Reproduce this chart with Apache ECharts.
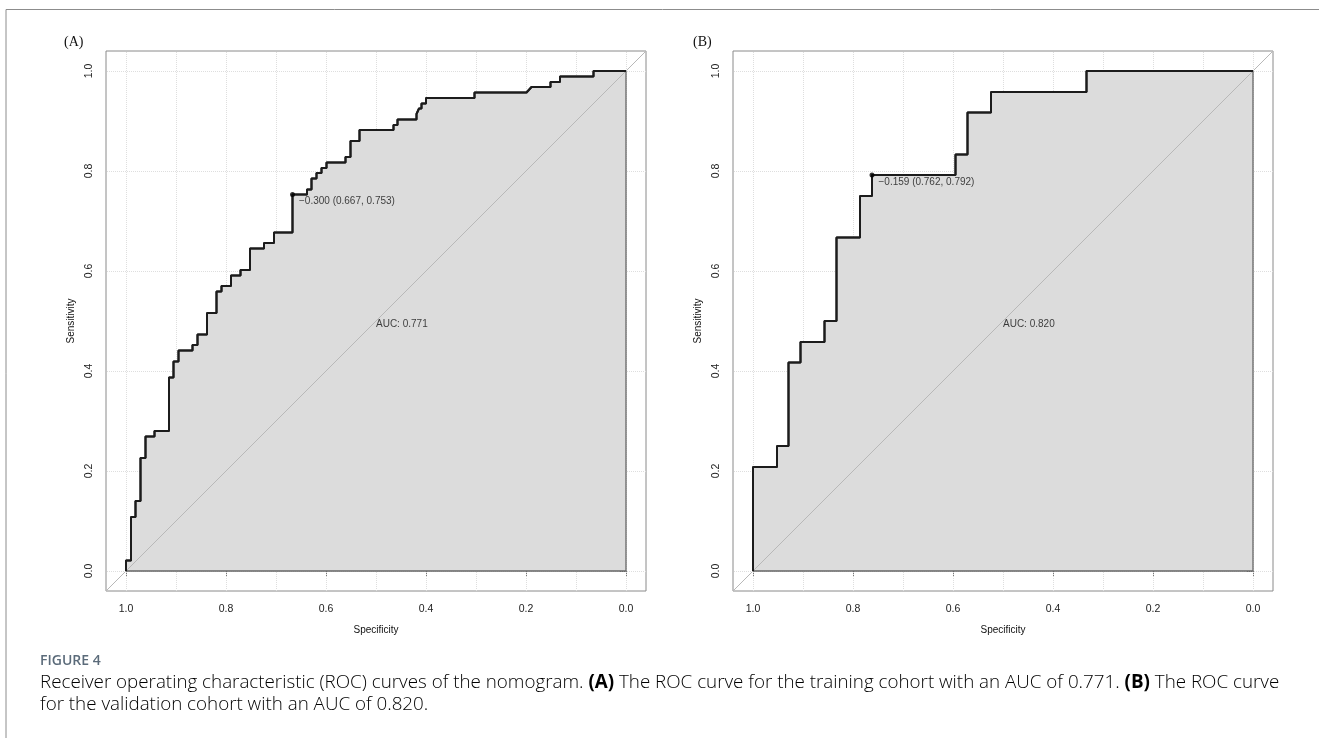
<!DOCTYPE html>
<html>
<head>
<meta charset="utf-8">
<style>
html,body{margin:0;padding:0;background:#fff;}
#chart{width:1319px;height:738px;}
</style>
<script src="https://cdn.jsdelivr.net/npm/echarts/dist/echarts.min.js"></script>
</head>
<body>
<div id="chart"></div>
<script>
// ---- data ----
var specA = [1,1,0.99,0.99,0.981,0.981,0.971,0.971,0.961,0.961,0.943,0.943,0.914,0.914,0.905,0.905,0.895,0.895,0.867,0.867,0.857,0.857,0.838,0.838,0.819,0.819,0.809,0.809,0.79,0.79,0.771,0.771,0.752,0.752,0.724,0.724,0.704,0.704,0.667,0.667,0.638,0.638,0.629,0.629,0.619,0.619,0.609,0.609,0.599,0.599,0.561,0.561,0.551,0.551,0.533,0.533,0.465,0.465,0.457,0.457,0.419,0.419,0.414,0.409,0.409,0.400,0.400,0.303,0.303,0.199,0.189,0.151,0.151,0.132,0.132,0.065,0.065,0];
var sensA = [0,0.021,0.021,0.108,0.108,0.140,0.140,0.226,0.226,0.269,0.269,0.280,0.280,0.387,0.387,0.419,0.419,0.441,0.441,0.452,0.452,0.473,0.473,0.516,0.516,0.559,0.559,0.570,0.570,0.591,0.591,0.602,0.602,0.645,0.645,0.656,0.656,0.677,0.677,0.753,0.753,0.763,0.763,0.785,0.785,0.796,0.796,0.806,0.806,0.817,0.817,0.828,0.828,0.860,0.860,0.882,0.882,0.892,0.892,0.903,0.903,0.914,0.925,0.925,0.935,0.935,0.946,0.946,0.957,0.957,0.968,0.968,0.978,0.978,0.989,0.989,1,1];
var specB = [1,1,0.952,0.952,0.929,0.929,0.905,0.905,0.857,0.857,0.833,0.833,0.786,0.786,0.762,0.762,0.595,0.595,0.571,0.571,0.524,0.524,0.333,0.333,0];
var sensB = [0,0.208,0.208,0.250,0.250,0.417,0.417,0.458,0.458,0.500,0.500,0.667,0.667,0.750,0.750,0.792,0.792,0.833,0.833,0.917,0.917,0.958,0.958,1,1];
var cutA = {spec:0.667, sens:0.753, label:'\u22120.300 (0.667, 0.753)'};
var cutB = {spec:0.762, sens:0.792, label:'\u22120.159 (0.762, 0.792)'};
var aucA = 'AUC: 0.771';
var aucB = 'AUC: 0.820';
var tickValues = [0, 0.2, 0.4, 0.6, 0.8, 1.0];
var tickLabels = ['0.0', '0.2', '0.4', '0.6', '0.8', '1.0'];
var vGrid = [0,0.1,0.2,0.3,0.4,0.5,0.6,0.7,0.8,0.9,1.0];
var hGrid = [0,0.2,0.4,0.6,0.8,1.0];
var panelTags = ['(A)', '(B)'];
var axisNames = {x:'Specificity', y:'Sensitivity'};

// ---- chart ----
var LO = -0.04, HI = 1.04;
function zip(a,b){ return a.map(function(v,i){return [v,b[i]];}); }
function fmt(v){ var i = tickValues.indexOf(Math.round(v*10)/10); return i>=0 ? tickLabels[i] : ''; }

var grids = [
  {left:106, top:51, width:540, height:540},
  {left:733, top:51, width:540, height:540}
];
var xAxes = [], yAxes = [], series = [];
[[specA,sensA,cutA,aucA],[specB,sensB,cutB,aucB]].forEach(function(p, k){
  grids[k].show = true; grids[k].borderColor = '#8a8a8a'; grids[k].borderWidth = 1; grids[k].backgroundColor = '#fff';
  xAxes.push({type:'value', gridIndex:k, min:LO, max:HI, inverse:true,
    name:axisNames.x, nameLocation:'middle', nameGap:34,
    nameTextStyle:{fontFamily:'Liberation Sans', fontSize:10, color:'#111'},
    axisLine:{show:false},
    axisTick:{show:true, customValues:tickValues, length:6, lineStyle:{color:'#777'}},
    axisLabel:{customValues:tickValues, formatter:fmt, margin:13, fontFamily:'Liberation Sans', fontSize:10.5, color:'#222'},
    splitLine:{show:false}});
  yAxes.push({type:'value', gridIndex:k, min:LO, max:HI,
    name:axisNames.y, nameLocation:'middle', nameGap:30,
    nameTextStyle:{fontFamily:'Liberation Sans', fontSize:10, color:'#111'},
    axisLine:{show:false},
    axisTick:{show:true, customValues:tickValues, length:6, lineStyle:{color:'#777'}},
    axisLabel:{customValues:tickValues, formatter:fmt, rotate:90, margin:11, fontFamily:'Liberation Sans', fontSize:10.5, color:'#222'},
    splitLine:{show:false}});
  var gl = {type:'dotted', color:'#dedede', width:1};
  // grid lines
  series.push({type:'line', xAxisIndex:k, yAxisIndex:k, data:[], z:1, silent:true,
    markLine:{z:1, silent:true, symbol:'none', label:{show:false}, lineStyle:gl, animation:false,
      data: vGrid.map(function(v){return {xAxis:v};}).concat(hGrid.map(function(v){return {yAxis:v};}))}});
  // filled ROC polygon
  series.push({type:'line', xAxisIndex:k, yAxisIndex:k, data:zip(p[0],p[1]), z:2, symbol:'none',
    lineStyle:{color:'#1c1c1c', width:2}, areaStyle:{color:'#dcdcdc', opacity:1, origin:0}, animation:false});
  // polygon border (bottom and right edges)
  series.push({type:'line', xAxisIndex:k, yAxisIndex:k, data:[[1,0],[0,0],[0,1]], z:3, symbol:'none',
    lineStyle:{color:'#666', width:1.3}, animation:false});
  // diagonal reference line
  series.push({type:'line', xAxisIndex:k, yAxisIndex:k, data:[[HI,1-HI],[LO,1-LO]], z:3, symbol:'none',
    lineStyle:{color:'#b8b8b8', width:1}, animation:false});
  // curve on top
  series.push({type:'line', xAxisIndex:k, yAxisIndex:k, data:zip(p[0],p[1]), z:4, symbol:'none',
    lineStyle:{color:'#1c1c1c', width:2}, animation:false});
  // best threshold point
  series.push({type:'scatter', xAxisIndex:k, yAxisIndex:k, data:[[p[2].spec,p[2].sens]], z:5,
    symbolSize:5, itemStyle:{color:'#000'},
    label:{show:true, position:'right', distance:4, offset:[0,7], formatter:p[2].label,
      fontFamily:'Liberation Sans', fontSize:10, color:'#111'}, animation:false});
  // AUC text
  series.push({type:'scatter', xAxisIndex:k, yAxisIndex:k, data:[[0.5,0.5]], z:5,
    symbolSize:0, label:{show:true, position:'right', distance:0, offset:[0,3], formatter:p[3],
      fontFamily:'Liberation Sans', fontSize:10, color:'#111'}, animation:false});
});

var capFont = '"Open Sans", "Noto Sans", sans-serif';
var capSize = 18.8;
var capColor = '#4a4a4a';
var option = {
  backgroundColor:'#fff',
  animation:false,
  grid:grids, xAxis:xAxes, yAxis:yAxes, series:series,
  graphic:[
    {type:'polyline', shape:{points:[[6,738],[6,9.5],[1319,9.5]]}, style:{stroke:'#8c8c8c', lineWidth:1, fill:null}},
    {type:'text', left:64, top:35, style:{text:panelTags[0], font:'14px "Liberation Serif"', fill:'#111'}},
    {type:'text', left:693, top:35, style:{text:panelTags[1], font:'14px "Liberation Serif"', fill:'#111'}},
    {type:'text', left:40, top:654, style:{text:'FIGURE 4', font:'600 14px ' + capFont, fill:'#5b6b7a'}},
    {type:'text', left:40, top:673, style:{
      text:'{n|Receiver operating characteristic (ROC) curves of the nomogram. }{b|(A)}{n| The ROC curve for the training cohort with an AUC of 0.771. }{b|(B)}{n| The ROC curve}',
      rich:{n:{fontFamily:capFont, fontSize:capSize, fontWeight:300, color:capColor},
            b:{fontFamily:capFont, fontSize:capSize, fontWeight:'bold', color:'#4d5d6d'}}}},
    {type:'text', left:40, top:695, style:{
      text:'{n|for the validation cohort with an AUC of 0.820.}',
      rich:{n:{fontFamily:capFont, fontSize:capSize, fontWeight:300, color:capColor}}}}
  ]
};
var chart = echarts.init(document.getElementById('chart'), null, {renderer:'canvas'});
chart.setOption(option);
</script>
</body>
</html>
